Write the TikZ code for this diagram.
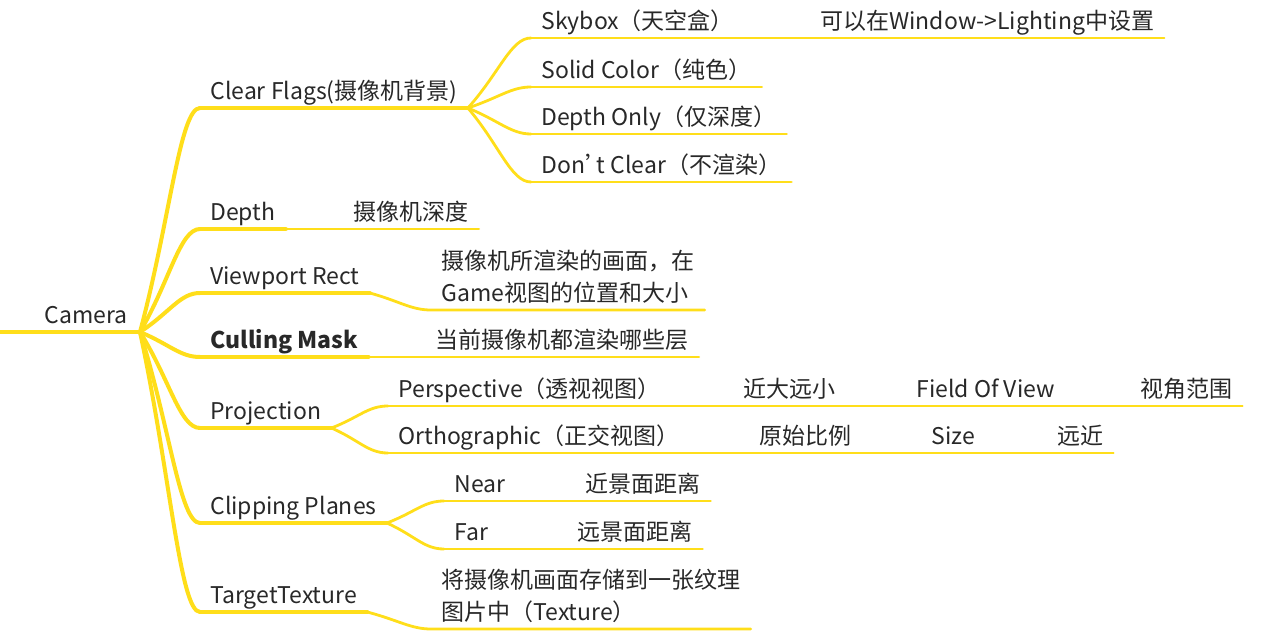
\documentclass[tikz,border=0pt]{standalone}
\usepackage{fontspec}
\setmainfont{Noto Sans CJK SC}
\usetikzlibrary{calc}
\definecolor{mapyellow}{RGB}{255,222,26}
\definecolor{ink}{RGB}{40,40,40}
\newcommand{\narrowq}{{\addfontfeature{CharacterWidth=AlternateProportional}’}}

\begin{document}
\begin{tikzpicture}[
    x=0.5pt, y=-0.5pt,
    font=\fontsize{11.5}{16}\selectfont, text=ink,
    topic/.style={anchor=south west, inner xsep=5pt, inner ysep=1.5pt,
                  text height=9pt, text depth=2.5pt},
    note/.style={anchor=south west, inner xsep=5pt, inner ysep=1.5pt,
                 align=left, text depth=2.5pt},
    trunk/.style={draw=mapyellow, line width=2.4pt, line cap=round},
    limb/.style={draw=mapyellow, line width=2pt, line cap=round},
    twig/.style={draw=mapyellow, line width=1.4pt, line cap=round},
    leaf/.style={draw=mapyellow, line width=0.9pt, line cap=round},
    hair/.style={draw=mapyellow, line width=0.6pt, line cap=round}
]
\useasboundingbox (0,0) rectangle (1272,640);

% root
\coordinate (rootL) at (0,332);
\coordinate (fan) at (140,332);
\node[topic] (cam) at (34,332) {Camera};
\draw[trunk] (rootL) -- (fan);

% first level
\node[topic] (cf) at (200,108) {Clear Flags(摄像机背景)};
\node[topic] (dp) at (200,229) {Depth};
\node[topic] (vr) at (200,293) {Viewport Rect};
\node[topic] (cm) at (200,357) {\bfseries Culling Mask};
\node[topic] (pj) at (200,428) {Projection};
\node[topic] (cp) at (200,523) {Clipping Planes};
\node[topic] (tt) at (200,612) {TargetTexture};

\foreach \n in {cf,dp,vr,cm,pj,cp,tt} {
  \draw[limb] (\n.south west) -- (\n.south east);
  \draw[limb] (fan) .. controls ($(fan)!0.5!(\n.south west)$)
    and ($(\n.south west)+(-20,0)$) .. (\n.south west);
}

% Clear Flags
\node[topic] (sky) at (531,38) {Skybox（天空盒）};
\node[topic] (solid) at (531,87) {Solid Color（纯色）};
\node[topic] (donly) at (531,134) {Depth Only（仅深度）};
\node[topic] (dclear) at (531,182) {Don\narrowq t Clear（不渲染）};
\node[topic] (skyn) at (810,38) {可以在Window->Lighting中设置};

\foreach \n in {sky,solid,donly,dclear} {
  \draw[twig] (\n.south west) -- (\n.south east);
  \draw[twig] (cf.south east) .. controls ($(cf.south east)!0.5!(\n.south west)$)
    and ($(\n.south west)+(-20,0)$) .. (\n.south west);
}
\draw[leaf] (sky.south east) -- (skyn.south west) -- (skyn.south east);

% Depth, Viewport Rect, Culling Mask
\node[topic] (dpn) at (343,229) {摄像机深度};
\node[note] (vrn) at (431,310) {摄像机所渲染的画面，在\\Game视图的位置和大小};
\node[topic] (cmn) at (425,357) {当前摄像机都渲染哪些层};

\draw[twig] (dp.south east) -- (dpn.south west) -- (dpn.south east);
\draw[twig] (cm.south east) -- (cmn.south west) -- (cmn.south east);
\draw[twig] (vr.south east) .. controls ($(vr.south east)!0.5!(vrn.south west)$)
  and ($(vrn.south west)+(-20,0)$) .. (vrn.south west) -- (vrn.south east);

% Projection
\node[topic] (persp) at (388,406) {Perspective（透视视图）};
\node[topic] (ortho) at (388,453) {Orthographic（正交视图）};
\node[topic] (pa) at (733,406) {近大远小};
\node[topic] (pb) at (906,406) {Field Of View};
\node[topic] (pc) at (1130,406) {视角范围};
\node[topic] (oa) at (749,453) {原始比例};
\node[topic] (ob) at (921,453) {Size};
\node[topic] (oc) at (1047,453) {远近};

\foreach \n in {persp,ortho} {
  \draw[twig] (\n.south west) -- (\n.south east);
  \draw[twig] (pj.south east) .. controls ($(pj.south east)!0.5!(\n.south west)$)
    and ($(\n.south west)+(-20,0)$) .. (\n.south west);
}
\draw[leaf] (persp.south east) -- (pa.south west) -- (pa.south east);
\draw[hair] (pa.south east) -- (pb.south west) -- (pb.south east) -- (pc.south west) -- (pc.south east);
\draw[leaf] (ortho.south east) -- (oa.south west) -- (oa.south east);
\draw[hair] (oa.south east) -- (ob.south west) -- (ob.south east) -- (oc.south west) -- (oc.south east);

% Clipping Planes
\node[topic] (near) at (444,501) {Near};
\node[topic] (far) at (444,549) {Far};
\node[topic] (nearn) at (575,501) {近景面距离};
\node[topic] (farn) at (567,549) {远景面距离};

\foreach \n in {near,far} {
  \draw[twig] (\n.south west) -- (\n.south east);
  \draw[twig] (cp.south east) .. controls ($(cp.south east)!0.5!(\n.south west)$)
    and ($(\n.south west)+(-20,0)$) .. (\n.south west);
}
\draw[leaf] (near.south east) -- (nearn.south west) -- (nearn.south east);
\draw[leaf] (far.south east) -- (farn.south west) -- (farn.south east);

% TargetTexture
\node[note] (ttn) at (431,629) {将摄像机画面存储到一张纹理\\图片中（Texture）};
\draw[twig] (tt.south east) .. controls ($(tt.south east)!0.5!(ttn.south west)$)
  and ($(ttn.south west)+(-20,0)$) .. (ttn.south west) -- (ttn.south east);
\end{tikzpicture}
\end{document}
